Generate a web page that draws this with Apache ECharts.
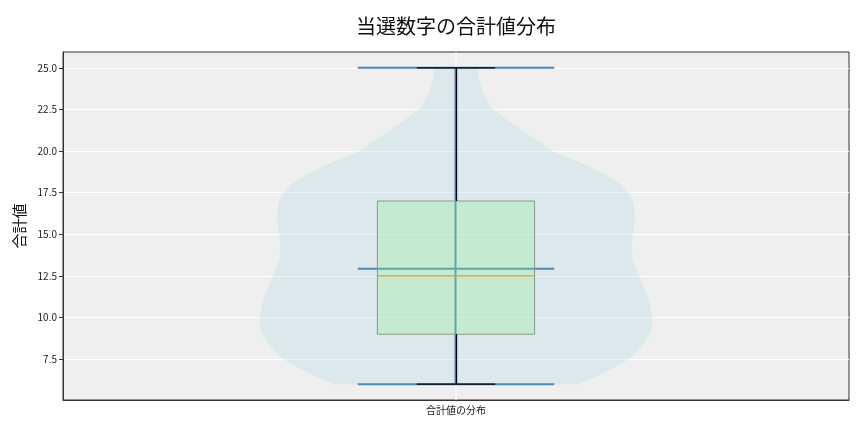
<!DOCTYPE html>
<html>
<head>
<meta charset="utf-8">
<script src="https://cdn.jsdelivr.net/npm/echarts@6/dist/echarts.min.js"></script>
<style>html,body{margin:0;padding:0;background:#fff}#c{width:864px;height:432px}</style>
</head>
<body>
<div id="c"></div>
<script>
const categories = ['合計値の分布'];
const yTicks = [7.5, 10, 12.5, 15, 17.5, 20, 22.5, 25];
// violin outline: values and relative density (max = 1)
const violinValues = [25, 24.3, 23.5, 22.9, 22.5, 22.1, 21.5, 20.9, 20, 19.5, 18.9, 18.1, 17.5, 16.9, 15.9, 15, 14.3, 13.5, 12.7, 11.9, 11.1, 10, 9.1, 8.3, 7.5, 7.1, 6.5, 6];
const violinDensity = [0.107, 0.117, 0.138, 0.163, 0.189, 0.235, 0.301, 0.378, 0.49, 0.597, 0.709, 0.827, 0.878, 0.903, 0.913, 0.898, 0.893, 0.898, 0.923, 0.954, 0.98, 1.0, 0.99, 0.949, 0.878, 0.821, 0.724, 0.617];
// box stats: min, q1, median, q3, max
const boxStats = [6, 9, 12.5, 17, 25];
const meanValue = 12.93;

const chart = echarts.init(document.getElementById('c'));
const FONT = '"Noto Sans CJK JP", "Noto Sans", sans-serif';

function violinItem(params, api) {
  const band = api.size([1, 0])[0];
  const cs = params.coordSys;
  const cx = api.coord([0, boxStats[0]])[0];
  const right = [], left = [];
  for (let i = 0; i < violinValues.length; i++) {
    const p = api.coord([0, violinValues[i]]);
    const hw = violinDensity[i] * 0.25 * band;
    right.push([p[0] + hw, p[1]]);
    left.push([p[0] - hw, p[1]]);
  }
  const pts = right.concat(left.reverse());
  return {
    type: 'group',
    children: [
      { type: 'line', shape: { x1: cx, y1: cs.y, x2: cx, y2: cs.y + cs.height },
        style: { stroke: '#ffffff', lineWidth: 1 } },
      { type: 'polygon', shape: { points: pts },
        style: { fill: 'rgba(173,216,230,0.3)', stroke: null } }
    ]
  };
}

function boxItem(params, api) {
  const band = api.size([1, 0])[0];
  const v = i => api.value(i);
  const pMin = api.coord([0, v(1)]), pQ1 = api.coord([0, v(2)]), pMed = api.coord([0, v(3)]);
  const pQ3 = api.coord([0, v(4)]), pMax = api.coord([0, v(5)]), pMean = api.coord([0, v(6)]);
  const cx = pMin[0];
  const blueHW = 0.125 * band, boxHW = 0.1 * band, capHW = 0.05 * band;
  const blue = '#4d89b7';
  const hl = (y, hw, color, w) => ({ type: 'line', shape: { x1: cx - hw, y1: y, x2: cx + hw, y2: y }, style: { stroke: color, lineWidth: w } });
  return {
    type: 'group',
    children: [
      { type: 'line', shape: { x1: cx - 0.5, y1: pMax[1], x2: cx - 0.5, y2: pMin[1] }, style: { stroke: blue, lineWidth: 2 } },
      hl(pMax[1], blueHW, blue, 2),
      hl(pMin[1], blueHW, blue, 2),
      hl(pMean[1], blueHW, blue, 2),
      { type: 'rect', shape: { x: cx - boxHW, y: pQ3[1], width: 2 * boxHW, height: pQ1[1] - pQ3[1] },
        style: { fill: 'rgba(144,238,144,0.3)', stroke: '#8c9a90', lineWidth: 1 } },
      { type: 'line', shape: { x1: cx + 0.5, y1: pMax[1], x2: cx + 0.5, y2: pQ3[1] }, style: { stroke: '#000', lineWidth: 1.3 } },
      { type: 'line', shape: { x1: cx + 0.5, y1: pQ1[1], x2: cx + 0.5, y2: pMin[1] }, style: { stroke: '#000', lineWidth: 1.3 } },
      hl(pMax[1], capHW, '#000', 1.3),
      hl(pMin[1], capHW, '#000', 1.3),
      hl(pMed[1], boxHW, '#e09a3a', 1.3)
    ]
  };
}

chart.setOption({
  animation: false,
  title: {
    text: '当選数字の合計値分布', left: 351, top: 11,
    textStyle: { fontFamily: FONT, fontSize: 20, fontWeight: 'normal', color: '#111' }
  },
  grid: { left: 63, right: 15, top: 52, bottom: 32, show: true, backgroundColor: '#efefef', borderColor: '#333', borderWidth: 1 },
  xAxis: {
    type: 'category', data: categories, boundaryGap: true,
    axisLine: { lineStyle: { color: '#333' } },
    axisTick: { alignWithLabel: true, length: 4, lineStyle: { color: '#333' } },
    axisLabel: { fontFamily: FONT, fontSize: 10, color: '#222', margin: 5 },
    splitLine: { show: false }
  },
  yAxis: {
    type: 'value', min: 5.05, max: 25.95,
    name: '合計値', nameLocation: 'middle', nameGap: 33,
    nameTextStyle: { fontFamily: FONT, fontSize: 15, color: '#111' },
    axisLine: { show: true, lineStyle: { color: '#333' } },
    axisTick: { show: true, length: 4, customValues: yTicks, lineStyle: { color: '#333' } },
    axisLabel: { fontFamily: FONT, fontSize: 10, color: '#222', margin: 6, customValues: yTicks, formatter: v => Number(v).toFixed(1) },
    splitLine: { show: true, lineStyle: { color: '#ffffff', width: 1 } }
  },
  series: [
    { type: 'custom', renderItem: violinItem, data: [[0]], z: 2, silent: true },
    { type: 'custom', renderItem: boxItem, data: [[0].concat(boxStats, [meanValue])], z: 3, silent: true,
      encode: { x: 0, y: [1, 2, 3, 4, 5, 6] } }
  ]
});
</script>
</body>
</html>
